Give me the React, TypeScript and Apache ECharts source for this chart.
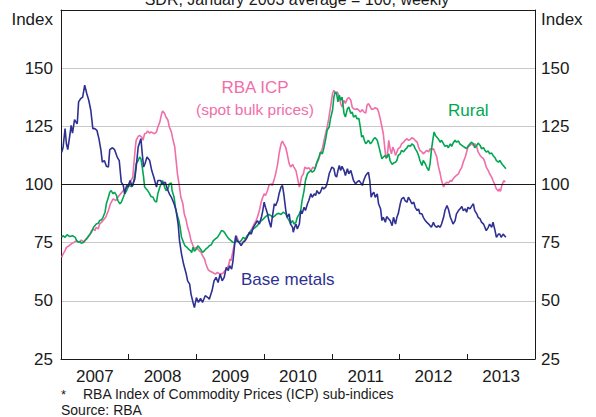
import React, { useEffect, useRef } from 'react';
import * as echarts from 'echarts';

const yearLabels = ['2007', '2008', '2009', '2010', '2011', '2012', '2013'];

// [year fraction, index]
const baseMetals: [number, number][] = [
  [2007.01,113.9],[2007.03,115.8],[2007.06,124.0],[2007.08,117.5],[2007.10,115.0],[2007.13,121.1],[2007.15,125.4],[2007.17,122.1],[2007.20,127.9],[2007.22,126.9],[2007.24,126.1],[2007.26,135.5],[2007.29,136.9],[2007.32,137.6],[2007.35,142.7],[2007.38,139.1],[2007.41,136.2],[2007.44,131.9],[2007.47,124.0],[2007.50,124.0],[2007.53,123.3],[2007.56,119.7],[2007.59,114.7],[2007.61,109.6],[2007.64,110.3],[2007.67,107.8],[2007.70,107.5],[2007.72,115.0],[2007.76,115.8],[2007.79,115.0],[2007.83,111.8],[2007.86,110.3],[2007.89,101.0],[2007.92,99.6],[2007.94,96.0],[2007.97,99.6],[2007.99,98.9],[2008.02,101.7],[2008.05,99.1],
  [2008.09,102.4],[2008.11,107.5],[2008.14,116.1],[2008.18,119.7],[2008.20,113.2],[2008.22,107.5],[2008.24,108.9],[2008.27,111.8],[2008.31,110.3],[2008.34,106.0],[2008.37,103.2],[2008.41,98.9],[2008.43,101.7],[2008.47,101.7],[2008.50,100.3],[2008.54,101.0],[2008.57,98.1],[2008.60,96.0],[2008.63,94.5],[2008.67,91.7],[2008.70,88.8],[2008.73,83.0],[2008.75,75.9],[2008.78,70.1],[2008.81,65.8],[2008.85,61.5],[2008.87,58.6],[2008.90,57.2],[2008.92,52.9],[2008.95,49.3],[2008.97,47.1],[2009.00,51.4],[2009.03,49.3],[2009.06,51.1],[2009.09,49.3],[2009.13,52.2],[2009.17,51.4],
  [2009.19,50.7],[2009.23,54.3],[2009.26,58.6],[2009.29,60.1],[2009.32,57.9],[2009.35,61.5],[2009.38,58.6],[2009.41,60.1],[2009.44,64.4],[2009.47,63.0],[2009.49,65.1],[2009.52,63.6],[2009.54,67.2],[2009.56,73.0],[2009.58,78.0],[2009.60,75.9],[2009.63,75.1],[2009.66,73.7],[2009.69,75.1],[2009.72,75.9],[2009.75,77.3],[2009.78,79.5],[2009.81,78.7],[2009.84,81.6],[2009.87,83.0],[2009.90,84.5],[2009.93,83.0],[2009.96,85.9],[2009.98,88.8],[2010.00,92.4],[2010.02,90.2],[2010.05,87.4],[2010.07,84.5],[2010.10,81.6],[2010.12,85.9],[2010.15,91.7],[2010.17,90.9],[2010.20,93.1],[2010.22,96.0],[2010.25,98.9],[2010.27,99.6],
  [2010.29,96.0],[2010.32,88.8],[2010.34,85.9],[2010.37,87.4],[2010.39,83.0],[2010.42,81.6],[2010.43,79.5],[2010.45,81.6],[2010.47,83.0],[2010.49,80.9],[2010.52,83.0],[2010.54,88.8],[2010.56,87.4],[2010.59,90.2],[2010.61,88.8],[2010.64,91.7],[2010.66,93.1],[2010.69,96.0],[2010.71,94.5],[2010.74,96.0],[2010.76,95.3],[2010.78,97.4],[2010.81,96.0],[2010.83,96.7],[2010.86,98.9],[2010.88,98.1],[2010.91,98.9],[2010.92,99.6],[2010.94,101.7],[2010.96,104.6],[2010.98,106.0],[2011.00,107.5],[2011.03,106.8],[2011.05,103.9],[2011.07,103.2],[2011.09,106.0],[2011.11,108.2],[2011.13,106.0],[2011.15,107.8],[2011.18,106.0],[2011.20,103.9],[2011.23,106.8],[2011.25,104.6],[2011.28,106.0],[2011.30,103.9],[2011.32,101.7],[2011.35,100.3],[2011.37,101.0],
  [2011.40,101.7],[2011.42,101.0],[2011.45,99.6],[2011.47,101.7],[2011.50,103.9],[2011.52,104.6],[2011.54,105.3],[2011.56,101.7],[2011.58,94.5],[2011.60,96.0],[2011.62,96.7],[2011.64,94.5],[2011.67,96.0],[2011.69,91.7],[2011.72,89.5],[2011.74,84.5],[2011.76,85.9],[2011.79,83.8],[2011.81,86.2],[2011.84,85.2],[2011.86,84.5],[2011.89,82.3],[2011.91,85.9],[2011.94,83.0],[2011.96,85.9],[2011.98,87.4],[2012.01,91.7],[2012.03,93.8],[2012.06,94.5],[2012.08,93.1],[2012.11,92.4],[2012.13,94.5],[2012.16,93.1],[2012.18,91.7],[2012.21,92.4],[2012.23,90.2],[2012.26,88.8],[2012.28,89.5],[2012.30,87.4],[2012.33,87.4],[2012.35,85.9],[2012.38,84.5],[2012.40,83.8],[2012.43,83.0],[2012.45,82.3],[2012.47,81.6],
  [2012.50,83.8],[2012.52,82.3],[2012.55,81.6],[2012.57,82.3],[2012.60,81.6],[2012.62,83.0],[2012.65,85.9],[2012.67,88.8],[2012.70,91.0],[2012.72,89.5],[2012.75,85.9],[2012.77,84.5],[2012.79,83.0],[2012.82,84.5],[2012.84,87.4],[2012.87,88.8],[2012.89,89.5],[2012.92,90.5],[2012.94,88.8],[2012.97,89.5],[2012.99,88.1],[2013.01,90.2],[2013.04,89.5],[2013.06,90.5],[2013.09,91.7],[2013.11,88.8],[2013.14,87.4],[2013.16,85.9],[2013.19,85.2],[2013.21,83.8],[2013.24,83.0],[2013.26,81.6],[2013.28,80.2],[2013.31,81.6],[2013.33,83.0],[2013.36,81.6],[2013.38,83.8],[2013.41,80.2],[2013.43,77.3],[2013.46,78.7],[2013.48,78.7],[2013.50,77.3],[2013.53,78.7],[2013.55,78.0],[2013.57,77.3],
];

const icpSpotBulk: [number, number][] = [
  [2007.01,68.7],[2007.03,70.1],[2007.06,71.6],[2007.08,73.0],[2007.12,73.7],[2007.16,74.7],[2007.19,75.1],[2007.23,75.9],[2007.27,75.1],[2007.30,76.1],[2007.34,75.1],[2007.37,76.6],[2007.40,77.3],[2007.43,78.7],[2007.45,80.2],[2007.48,80.9],[2007.50,80.2],[2007.52,81.6],[2007.55,80.9],[2007.57,83.0],[2007.60,83.8],[2007.62,84.5],[2007.66,85.9],[2007.70,88.8],[2007.73,91.7],[2007.77,93.8],[2007.81,93.1],[2007.84,94.5],[2007.88,96.0],[2007.92,97.4],[2007.95,98.1],[2007.99,99.6],[2008.02,101.0],[2008.06,103.2],
  [2008.08,110.3],[2008.10,116.5],[2008.11,119.0],[2008.14,120.7],[2008.16,121.1],[2008.19,120.4],[2008.21,119.0],[2008.235,121.8],[2008.26,122.1],[2008.28,123.0],[2008.31,122.1],[2008.33,122.6],[2008.36,122.1],[2008.38,121.8],[2008.41,122.6],[2008.43,124.7],[2008.46,126.9],[2008.48,129.7],[2008.50,131.6],[2008.53,130.5],[2008.55,129.0],[2008.58,127.6],[2008.60,124.7],[2008.63,122.6],[2008.65,119.7],[2008.68,116.1],[2008.70,110.3],[2008.72,104.6],[2008.75,98.9],[2008.77,94.5],[2008.80,91.7],[2008.82,87.4],[2008.85,84.5],[2008.87,81.6],[2008.90,78.7],[2008.92,75.9],[2008.95,73.7],[2008.97,72.3],[2009.00,73.0],[2009.02,72.3],[2009.04,71.6],[2009.07,70.8],[2009.09,69.4],[2009.12,68.0],[2009.14,65.8],[2009.17,63.6],
  [2009.19,62.9],[2009.24,62.2],[2009.28,61.5],[2009.31,62.2],[2009.35,61.5],[2009.39,61.8],[2009.42,62.9],[2009.45,63.6],[2009.48,65.8],[2009.495,68.0],[2009.51,67.2],[2009.53,70.1],[2009.55,73.0],[2009.57,75.9],[2009.59,78.0],[2009.61,76.6],[2009.63,75.1],[2009.66,74.4],[2009.68,75.1],[2009.71,75.9],[2009.73,76.6],[2009.75,78.0],[2009.78,78.7],[2009.80,80.2],[2009.83,81.6],[2009.85,83.0],[2009.88,84.5],[2009.90,85.9],[2009.93,88.8],[2009.95,91.7],[2009.97,93.8],[2010.00,96.0],[2010.02,95.3],[2010.05,97.4],[2010.07,99.6],[2010.10,100.3],[2010.12,99.6],[2010.15,102.4],[2010.17,104.6],[2010.20,108.9],[2010.22,113.2],[2010.25,117.5],[2010.27,118.7],
  [2010.29,117.5],[2010.32,115.8],[2010.34,113.2],[2010.37,108.9],[2010.39,107.5],[2010.42,108.6],[2010.44,107.5],[2010.47,106.0],[2010.49,103.2],[2010.52,98.9],[2010.53,99.6],[2010.55,103.2],[2010.58,104.6],[2010.60,107.5],[2010.63,106.8],[2010.66,107.2],[2010.69,106.0],[2010.72,107.5],[2010.75,106.8],[2010.77,108.9],[2010.80,110.3],[2010.83,113.2],[2010.86,115.4],[2010.89,119.7],[2010.92,123.3],[2010.95,127.6],[2010.98,133.3],[2011.01,139.1],[2011.03,140.5],[2011.05,139.1],[2011.08,139.8],[2011.10,138.4],[2011.13,134.8],[2011.15,133.3],[2011.18,136.2],[2011.20,134.8],[2011.23,136.9],[2011.25,137.4],[2011.28,136.2],[2011.30,133.3],[2011.32,132.6],[2011.35,132.2],[2011.37,132.6],
  [2011.40,131.9],[2011.42,131.2],[2011.45,132.2],[2011.47,131.2],[2011.50,130.7],[2011.52,134.1],[2011.54,134.8],[2011.57,133.3],[2011.59,132.2],[2011.62,132.6],[2011.64,133.0],[2011.67,132.6],[2011.69,131.2],[2011.72,127.6],[2011.74,124.7],[2011.76,121.8],[2011.78,116.1],[2011.80,111.1],[2011.82,112.5],[2011.84,119.0],[2011.86,115.4],[2011.88,113.2],[2011.90,116.1],[2011.92,114.7],[2011.94,112.5],[2011.96,114.0],[2011.98,115.4],[2012.01,116.1],[2012.03,117.5],[2012.06,118.2],[2012.08,119.0],[2012.11,119.7],[2012.13,119.0],[2012.16,119.3],[2012.18,120.1],[2012.21,119.7],[2012.23,119.0],[2012.26,118.2],[2012.28,116.1],[2012.30,114.7],[2012.33,114.0],[2012.35,113.2],[2012.38,114.0],[2012.40,114.7],[2012.43,114.0],[2012.45,115.4],[2012.47,114.9],
  [2012.50,115.4],[2012.52,114.0],[2012.55,111.8],[2012.57,108.2],[2012.60,104.6],[2012.62,101.7],[2012.65,98.9],[2012.67,100.3],[2012.70,101.0],[2012.72,100.6],[2012.75,101.7],[2012.77,101.4],[2012.79,102.4],[2012.82,103.4],[2012.84,103.9],[2012.87,104.6],[2012.89,106.0],[2012.92,107.5],[2012.94,109.6],[2012.97,111.8],[2012.99,114.0],[2013.01,116.1],[2013.04,116.8],[2013.06,117.5],[2013.09,116.8],[2013.11,117.5],[2013.14,116.1],[2013.16,114.0],[2013.19,112.5],[2013.21,111.8],[2013.24,111.1],[2013.26,109.6],[2013.28,107.5],[2013.31,106.0],[2013.33,104.6],[2013.36,103.2],[2013.38,101.7],[2013.41,99.6],[2013.43,98.1],[2013.46,97.1],[2013.47,98.1],[2013.49,97.1],[2013.51,99.6],[2013.54,101.7],[2013.56,101.0],
];

const rural: [number, number][] = [
  [2007.01,77.3],[2007.03,78.0],[2007.06,77.3],[2007.09,78.4],[2007.13,77.6],[2007.17,78.0],[2007.21,77.3],[2007.23,75.9],[2007.26,75.1],[2007.28,75.5],[2007.30,74.7],[2007.33,75.1],[2007.35,75.9],[2007.38,76.6],[2007.40,77.6],[2007.43,78.7],[2007.45,79.5],[2007.48,81.6],[2007.50,82.3],[2007.52,83.0],[2007.55,83.3],[2007.57,84.5],[2007.60,84.8],[2007.62,85.9],[2007.65,88.1],[2007.67,91.7],[2007.70,94.5],[2007.72,96.7],[2007.74,97.4],[2007.77,96.0],[2007.79,96.7],[2007.82,95.3],[2007.84,93.1],[2007.87,91.7],[2007.89,92.4],[2007.92,94.5],[2007.94,96.0],[2007.97,97.4],[2007.99,98.9],[2008.01,99.6],[2008.04,99.1],[2008.06,99.6],
  [2008.09,103.9],[2008.11,108.9],[2008.14,110.3],[2008.16,111.8],[2008.18,111.1],[2008.20,107.5],[2008.22,103.2],[2008.235,98.9],[2008.26,98.1],[2008.28,97.4],[2008.31,96.0],[2008.33,94.8],[2008.36,94.5],[2008.38,93.1],[2008.41,92.4],[2008.43,96.0],[2008.46,98.9],[2008.48,100.3],[2008.50,101.7],[2008.53,98.9],[2008.55,97.4],[2008.58,98.1],[2008.60,100.3],[2008.63,100.6],[2008.64,97.4],[2008.67,94.5],[2008.69,90.2],[2008.71,87.4],[2008.74,84.5],[2008.76,81.6],[2008.78,77.3],[2008.81,75.1],[2008.83,73.7],[2008.86,73.0],[2008.88,72.3],[2008.91,71.6],[2008.93,70.8],[2008.95,73.0],[2008.97,71.3],[2009.00,72.3],[2009.02,73.7],[2009.04,73.0],[2009.07,71.8],[2009.09,70.8],[2009.12,71.6],[2009.14,72.3],[2009.17,73.0],
  [2009.19,73.7],[2009.22,74.1],[2009.25,75.9],[2009.28,76.6],[2009.31,77.3],[2009.34,78.7],[2009.37,80.2],[2009.40,79.9],[2009.43,78.7],[2009.46,77.3],[2009.48,76.6],[2009.51,75.9],[2009.54,75.1],[2009.57,75.1],[2009.60,75.9],[2009.63,75.1],[2009.66,75.9],[2009.69,77.3],[2009.72,76.6],[2009.75,78.0],[2009.78,78.7],[2009.81,80.2],[2009.84,80.9],[2009.87,81.6],[2009.90,82.3],[2009.93,83.8],[2009.96,84.5],[2009.99,85.2],[2010.01,85.9],[2010.04,86.6],[2010.07,87.1],[2010.10,86.6],[2010.13,85.9],[2010.16,86.6],[2010.19,87.4],[2010.22,87.6],[2010.25,87.1],[2010.28,88.1],
  [2010.29,88.1],[2010.32,87.4],[2010.34,85.9],[2010.37,84.5],[2010.39,83.3],[2010.42,84.5],[2010.44,83.0],[2010.47,83.8],[2010.49,85.9],[2010.52,87.4],[2010.54,88.8],[2010.56,93.1],[2010.59,97.4],[2010.61,101.7],[2010.64,104.6],[2010.66,105.3],[2010.69,106.0],[2010.71,105.3],[2010.74,106.0],[2010.76,107.5],[2010.78,109.6],[2010.81,111.8],[2010.83,113.9],[2010.86,113.2],[2010.88,115.4],[2010.91,119.7],[2010.93,123.3],[2010.96,124.7],[2010.98,128.3],[2011.01,131.9],[2011.03,137.6],[2011.05,139.8],[2011.07,139.1],[2011.09,135.5],[2011.11,138.4],[2011.13,136.2],[2011.15,137.6],[2011.18,130.5],[2011.20,129.0],[2011.23,132.6],[2011.25,133.3],[2011.28,130.5],[2011.30,131.2],[2011.32,129.0],[2011.35,129.7],[2011.37,128.3],
  [2011.40,128.3],[2011.42,124.7],[2011.44,120.4],[2011.46,121.1],[2011.48,119.0],[2011.50,117.5],[2011.52,118.2],[2011.54,119.0],[2011.57,117.5],[2011.59,118.2],[2011.62,119.7],[2011.64,120.1],[2011.67,119.0],[2011.69,116.8],[2011.72,113.2],[2011.74,111.1],[2011.76,111.8],[2011.79,112.5],[2011.81,111.5],[2011.84,113.2],[2011.86,110.3],[2011.89,108.6],[2011.91,109.2],[2011.94,109.6],[2011.96,110.3],[2011.98,112.5],[2012.01,113.2],[2012.03,114.7],[2012.06,114.0],[2012.08,114.9],[2012.11,115.8],[2012.13,116.8],[2012.16,116.4],[2012.18,117.5],[2012.21,116.8],[2012.23,115.4],[2012.26,114.0],[2012.28,112.5],[2012.30,110.3],[2012.33,108.2],[2012.35,110.3],[2012.38,108.9],[2012.40,107.5],[2012.43,106.0],[2012.45,108.9],[2012.47,114.7],[2012.49,119.0],
  [2012.51,122.6],[2012.53,121.1],[2012.57,119.7],[2012.60,118.2],[2012.62,119.0],[2012.65,117.5],[2012.67,116.4],[2012.70,116.8],[2012.72,115.8],[2012.75,117.5],[2012.77,116.4],[2012.79,117.8],[2012.82,119.0],[2012.84,118.2],[2012.87,118.7],[2012.89,117.5],[2012.92,116.8],[2012.94,116.4],[2012.97,115.8],[2012.99,115.4],[2013.01,116.4],[2013.04,117.5],[2013.06,118.2],[2013.09,117.5],[2013.11,115.8],[2013.14,116.8],[2013.16,117.8],[2013.19,116.8],[2013.21,115.4],[2013.24,115.8],[2013.26,114.7],[2013.28,114.0],[2013.31,114.4],[2013.33,113.2],[2013.36,113.5],[2013.38,112.5],[2013.41,111.5],[2013.43,110.3],[2013.46,109.6],[2013.48,110.3],[2013.51,108.9],[2013.53,108.2],[2013.55,107.5],[2013.57,106.8],
];

const BLUE = '#2e3192';
const PINK = '#f06eaa';
const GREEN = '#00a651';
const AXIS = '#1a1a1a';
const FONT = "'Liberation Sans', Arial, Helvetica, sans-serif";

export default function App() {
  const ref = useRef<HTMLDivElement>(null);

  useEffect(() => {
    if (!ref.current) return;
    const chart = echarts.init(ref.current, null, { renderer: 'svg' });
    const lineSeries = (name: string, data: [number, number][], color: string, extra: any = {}) => ({
      name,
      type: 'line',
      xAxisIndex: 1,
      yAxisIndex: 0,
      data,
      showSymbol: false,
      symbol: 'none',
      smooth: false,
      lineStyle: { color, width: 1.6 },
      itemStyle: { color },
      silent: true,
      ...extra,
    });

    chart.setOption({
      animation: false,
      backgroundColor: '#ffffff',
      textStyle: { fontFamily: FONT },
      grid: { left: 61, right: 61, top: 10, bottom: 58, containLabel: false },
      xAxis: [
        {
          type: 'category',
          data: yearLabels,
          position: 'bottom',
          boundaryGap: true,
          axisLine: { show: true, lineStyle: { color: AXIS, width: 1 } },
          axisTick: { show: true, inside: true, length: 5, alignWithLabel: false, interval: 0, lineStyle: { color: AXIS } },
          axisLabel: { show: true, interval: 0, fontSize: 17, color: AXIS, fontFamily: FONT, margin: 9 },
          splitLine: { show: false },
        },
        {
          type: 'value',
          position: 'top',
          min: 2007,
          max: 2014,
          axisLine: { show: true, lineStyle: { color: AXIS, width: 1 } },
          axisTick: { show: false },
          axisLabel: { show: false },
          splitLine: { show: false },
        },
      ],
      yAxis: [
        {
          type: 'value',
          position: 'left',
          min: 25,
          max: 175,
          interval: 25,
          axisLine: { show: true, lineStyle: { color: AXIS, width: 1 } },
          axisTick: { show: false },
          axisLabel: {
            fontSize: 17, color: AXIS, fontFamily: FONT, margin: 8,
            formatter: (v: number) => (v === 175 ? '' : String(v)),
          },
          splitLine: { show: true, lineStyle: { color: '#c8c8c8', width: 1 } },
        },
        {
          type: 'value',
          position: 'right',
          min: 25,
          max: 175,
          interval: 25,
          axisLine: { show: true, lineStyle: { color: AXIS, width: 1 } },
          axisTick: { show: false },
          axisLabel: {
            fontSize: 17, color: AXIS, fontFamily: FONT, margin: 6,
            formatter: (v: number) => (v === 175 ? '' : String(v)),
          },
          splitLine: { show: false },
        },
      ],
      series: [
        lineSeries('RBA ICP (spot bulk prices)', icpSpotBulk, PINK, {
          markLine: {
            silent: true,
            symbol: ['none', 'none'],
            label: { show: false },
            lineStyle: { color: AXIS, type: 'solid', width: 1 },
            data: [{ yAxis: 100 }],
          },
        }),
        lineSeries('Rural', rural, GREEN),
        lineSeries('Base metals', baseMetals, BLUE),
      ],
      graphic: [
        { type: 'text', x: 297, y: 7, silent: true, style: { text: 'SDR, January 2003 average = 100, weekly', font: `16px ${FONT}`, fill: AXIS, textAlign: 'center', textVerticalAlign: 'bottom' } },
        { type: 'text', x: 53, y: 19, silent: true, style: { text: 'Index', font: `17px ${FONT}`, fill: AXIS, textAlign: 'right', textVerticalAlign: 'middle' } },
        { type: 'text', x: 541, y: 19, silent: true, style: { text: 'Index', font: `17px ${FONT}`, fill: AXIS, textAlign: 'left', textVerticalAlign: 'middle' } },
        { type: 'text', x: 255, y: 87, silent: true, style: { text: 'RBA ICP', font: `17px ${FONT}`, fill: PINK, textAlign: 'center', textVerticalAlign: 'middle' } },
        { type: 'text', x: 255, y: 109, silent: true, style: { text: '(spot bulk prices)', font: `15.5px ${FONT}`, fill: PINK, textAlign: 'center', textVerticalAlign: 'middle' } },
        { type: 'text', x: 448, y: 110, silent: true, style: { text: 'Rural', font: `17px ${FONT}`, fill: GREEN, textAlign: 'left', textVerticalAlign: 'middle' } },
        { type: 'text', x: 241, y: 279, silent: true, style: { text: 'Base metals', font: `17px ${FONT}`, fill: BLUE, textAlign: 'left', textVerticalAlign: 'middle' } },
        { type: 'text', x: 61, y: 394, silent: true, style: { text: '*', font: `13px ${FONT}`, fill: AXIS, textAlign: 'left', textVerticalAlign: 'middle' } },
        { type: 'text', x: 83, y: 394, silent: true, style: { text: 'RBA Index of Commodity Prices (ICP) sub-indices', font: `14px ${FONT}`, fill: AXIS, textAlign: 'left', textVerticalAlign: 'middle' } },
        { type: 'text', x: 61, y: 410, silent: true, style: { text: 'Source: RBA', font: `14px ${FONT}`, fill: AXIS, textAlign: 'left', textVerticalAlign: 'middle' } },
      ],
    });

    return () => {
      chart.dispose();
    };
  }, []);

  return (
    <div
      ref={ref}
      style={{ position: 'fixed', left: 0, top: 0, width: 596, height: 417, background: '#fff' }}
    />
  );
}
